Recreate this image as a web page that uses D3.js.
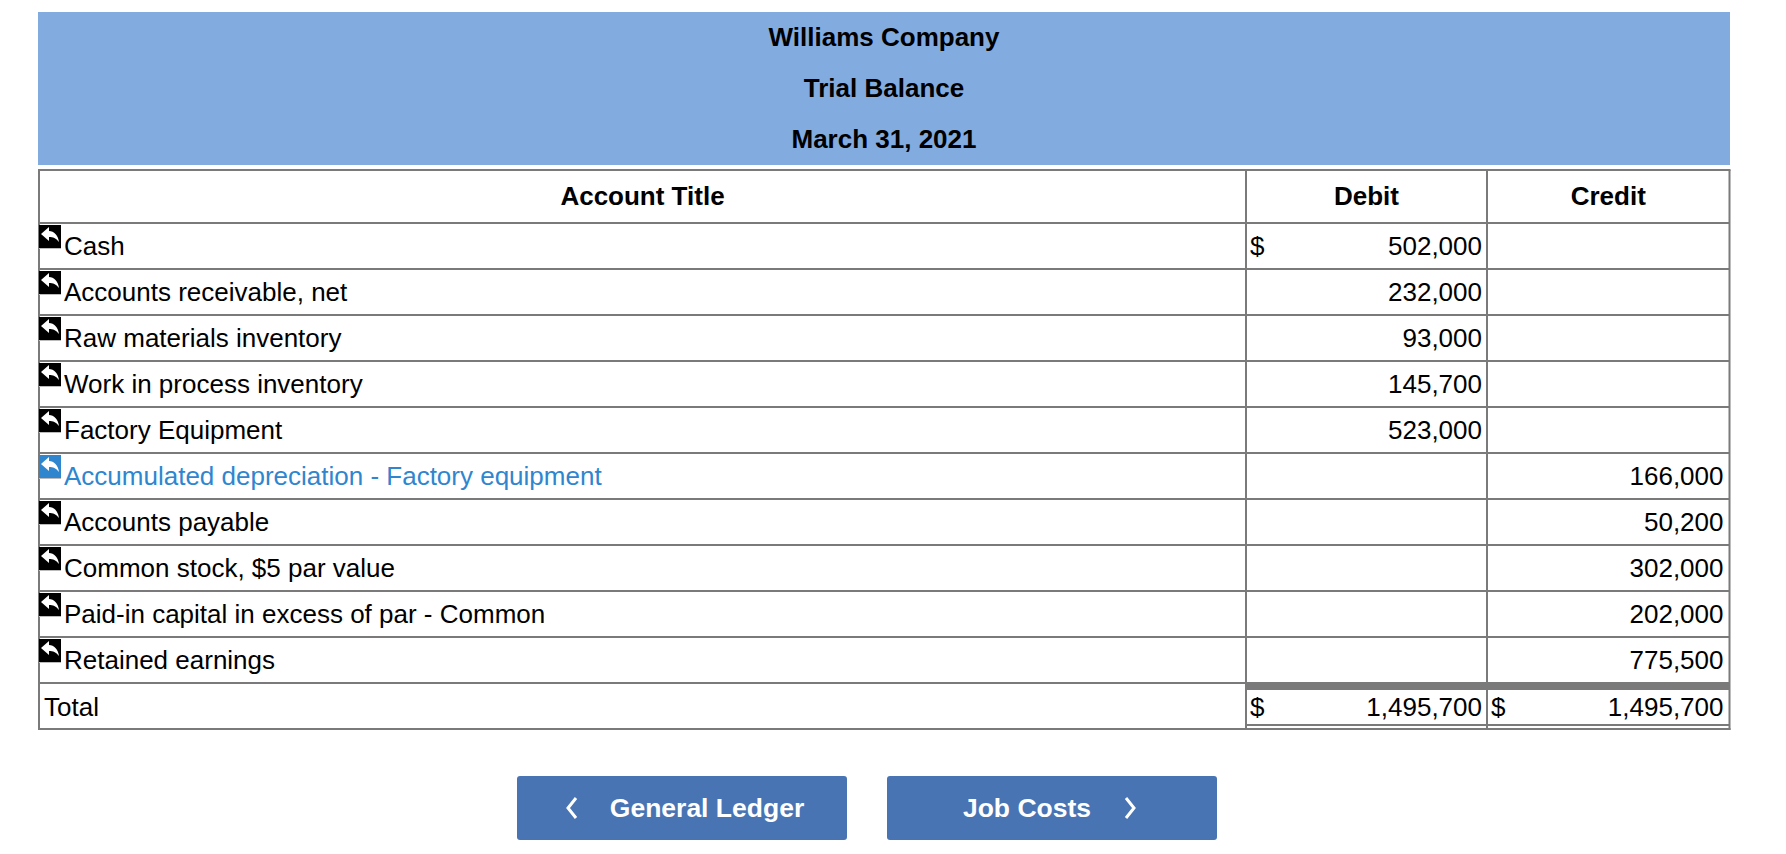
<!DOCTYPE html>
<html>
<head>
<meta charset="utf-8">
<style>
  html, body { margin: 0; padding: 0; background: #fff; }
  svg { display: block; }
  text { font-family: "Liberation Sans", Arial, sans-serif; fill: #000; }
</style>
</head>
<body>
<svg id="chart" width="1786" height="854"></svg>
<script src="https://d3js.org/d3.v7.min.js"></script>
<script>
const titleLines = ["Williams Company", "Trial Balance", "March 31, 2021"];
const columnTitles = ["Account Title", "Debit", "Credit"];
const accounts = ["Cash", "Accounts receivable, net", "Raw materials inventory", "Work in process inventory",
  "Factory Equipment", "Accumulated depreciation - Factory equipment", "Accounts payable",
  "Common stock, $5 par value", "Paid-in capital in excess of par - Common", "Retained earnings"];
const debits = [502000, 232000, 93000, 145700, 523000, null, null, null, null, null];
const credits = [null, null, null, null, null, 166000, 50200, 302000, 202000, 775500];
const dollarRows = ["Cash"];
const highlighted = ["Accumulated depreciation - Factory equipment"];
const totalLabel = "Total";
const totalDebit = 1495700;
const totalCredit = 1495700;
const navLabels = ["General Ledger", "Job Costs"];

const svg = d3.select("#chart");
const fmt = d3.format(",");
const lineColor = "#7a7a7a";
const fontSize = 26;

// table frame
const left = 39, right = 1729.5, debitX = 1246, creditX = 1487;
const tableTop = 170, headBottom = 223, rowsBottom = 683, totalBottom = 725, tableBottom = 729;

const y = d3.scaleBand().domain(accounts).range([headBottom, rowsBottom]);

// blue title band
svg.append("rect").attr("x", 38).attr("y", 12).attr("width", 1692).attr("height", 153).attr("fill", "#82abe0");
const titleY = d3.scalePoint().domain(titleLines).range([37, 139]);
svg.selectAll(".title").data(titleLines).enter().append("text")
  .attr("class", "title")
  .attr("x", 884)
  .attr("y", d => titleY(d))
  .attr("dy", "0.35em")
  .attr("text-anchor", "middle")
  .attr("font-weight", "bold")
  .attr("font-size", fontSize)
  .text(d => d);

// column headings
const headX = [(left + debitX) / 2, (debitX + creditX) / 2, (creditX + right) / 2];
svg.selectAll(".head").data(columnTitles).enter().append("text")
  .attr("class", "head")
  .attr("x", (d, i) => headX[i])
  .attr("y", (tableTop + headBottom) / 2 - 0.5)
  .attr("dy", "0.35em")
  .attr("text-anchor", "middle")
  .attr("font-weight", "bold")
  .attr("font-size", fontSize)
  .text(d => d);

// grid
const hline = (yy, x1, x2, w) => svg.append("line").attr("x1", x1).attr("x2", x2).attr("y1", yy).attr("y2", yy)
  .attr("stroke", lineColor).attr("stroke-width", w);
const vline = (xx, y1, y2, w) => svg.append("line").attr("x1", xx).attr("x2", xx).attr("y1", y1).attr("y2", y2)
  .attr("stroke", lineColor).attr("stroke-width", w);

hline(tableTop, left - 1, right + 1, 2);
hline(headBottom, left, right, 2);
accounts.forEach(a => hline(y(a) + y.bandwidth(), left, right, 2));
hline(rowsBottom + 3.5, debitX, right, 7);
hline(totalBottom, debitX, right, 2);
hline(tableBottom, left - 1, right + 1, 2);
vline(left, tableTop, tableBottom + 1, 2);
vline(right, tableTop, tableBottom + 1, 2);
vline(debitX, tableTop, tableBottom, 2);
vline(creditX, tableTop, tableBottom, 2);

// rows
const rows = svg.selectAll(".row").data(accounts).enter().append("g")
  .attr("class", "row")
  .attr("transform", d => `translate(0,${y(d)})`);

rows.append("rect").attr("x", 39).attr("y", 2).attr("width", 22).attr("height", 23)
  .attr("fill", d => highlighted.includes(d) ? "#2f86cf" : "#000");
rows.append("rect").attr("x", 39).attr("y", 25).attr("width", 22).attr("height", 1).attr("fill", "#bbb");
rows.append("path")
  .attr("d", "M41 11 L49 4 L49 8 C54 8 58 12 59 19 C56 15 53 14 49 14 L49 18 Z")
  .attr("fill", "#fff");

rows.append("text")
  .attr("x", 64)
  .attr("y", 32)
  .attr("font-size", fontSize)
  .style("fill", d => highlighted.includes(d) ? "#2f86cf" : "#000")
  .text(d => d);

rows.filter(d => dollarRows.includes(d)).append("text")
  .attr("x", debitX + 4).attr("y", 32).attr("font-size", fontSize).text("$");

rows.append("text")
  .attr("x", creditX - 5).attr("y", 32)
  .attr("text-anchor", "end").attr("font-size", fontSize)
  .text((d, i) => debits[i] === null ? "" : fmt(debits[i]));

rows.append("text")
  .attr("x", right - 6).attr("y", 32)
  .attr("text-anchor", "end").attr("font-size", fontSize)
  .text((d, i) => credits[i] === null ? "" : fmt(credits[i]));

// total row
const totalY = rowsBottom + 32.5;
svg.append("text").attr("x", 44).attr("y", totalY).attr("font-size", fontSize).text(totalLabel);
svg.append("text").attr("x", debitX + 4).attr("y", totalY).attr("font-size", fontSize).text("$");
svg.append("text").attr("x", creditX - 5).attr("y", totalY).attr("text-anchor", "end").attr("font-size", fontSize).text(fmt(totalDebit));
svg.append("text").attr("x", creditX + 4).attr("y", totalY).attr("font-size", fontSize).text("$");
svg.append("text").attr("x", right - 6).attr("y", totalY).attr("text-anchor", "end").attr("font-size", fontSize).text(fmt(totalCredit));

// nav buttons
const navX = d3.scaleOrdinal().domain(navLabels).range([517, 887]);
const navText = d3.scaleOrdinal().domain(navLabels).range([707, 1027]);
const nav = svg.selectAll(".nav").data(navLabels).enter().append("g").attr("class", "nav");
nav.append("rect")
  .attr("x", d => navX(d)).attr("y", 776).attr("width", 330).attr("height", 64).attr("rx", 3)
  .attr("fill", "#4874b4");
nav.append("text")
  .attr("x", d => navText(d)).attr("y", 808).attr("dy", "0.35em")
  .attr("text-anchor", "middle").attr("font-weight", "bold").attr("font-size", 26.5)
  .style("fill", "#fff")
  .text(d => d);
svg.append("path").attr("d", "M576 798 L568 808 L576 818").attr("fill", "none").attr("stroke", "#fff").attr("stroke-width", 3);
svg.append("path").attr("d", "M1126 798 L1134 808 L1126 818").attr("fill", "none").attr("stroke", "#fff").attr("stroke-width", 3);
</script>
</body>
</html>
